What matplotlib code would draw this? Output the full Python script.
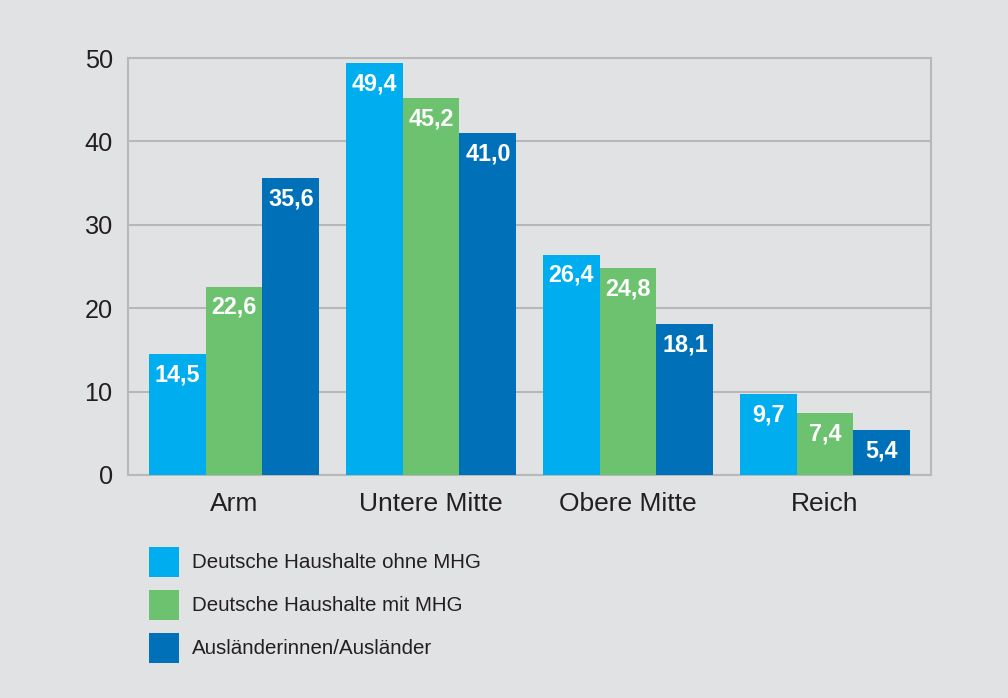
import numpy as np
import matplotlib.pyplot as plt

plt.rcParams['font.family'] = ['Liberation Sans', 'DejaVu Sans']

# data
categories = ['Arm', 'Untere Mitte', 'Obere Mitte', 'Reich']
series_names = ['Deutsche Haushalte ohne MHG', 'Deutsche Haushalte mit MHG', 'Ausländerinnen/Ausländer']
ohne_mhg = [14.5, 49.4, 26.4, 9.7]
mit_mhg = [22.6, 45.2, 24.8, 7.4]
auslaender = [35.6, 41.0, 18.1, 5.4]
colors = ['#00aeef', '#6cc26e', '#0071b9']

bg = '#e1e2e4'
grid_col = '#b7b8ba'
text_col = '#231f20'

fig = plt.figure(figsize=(10.08, 6.98), dpi=100, facecolor=bg)
ax = fig.add_axes([0.127, 0.3195, 0.7966, 0.5974])
ax.set_facecolor(bg)

x = np.arange(len(categories))
w = 0.289
handles = []
for i, (vals, name, c) in enumerate(zip([ohne_mhg, mit_mhg, auslaender], series_names, colors)):
    b = ax.bar(x + (i - 1) * w, vals, width=w, color=c, label=name, zorder=3)
    handles.append(b)
    for xi, v in zip(x + (i - 1) * w, vals):
        ax.annotate(f'{v:.1f}'.replace('.', ','), (xi, v), xytext=(0, -19.5),
                    textcoords='offset points', ha='center', va='baseline',
                    color='white', fontsize=16.8, fontweight='bold', zorder=4)

ax.set_ylim(0, 50)
ax.set_xlim(-0.538, 3.538)
ax.set_yticks([0, 10, 20, 30, 40, 50])
ax.set_xticks(x)
ax.tick_params(length=0, labelsize=18.2, colors=text_col)
ax.tick_params(axis='y', pad=11)
ax.tick_params(axis='x', pad=12)
ax.set_xticklabels(categories, fontsize=19)
ax.yaxis.grid(True, color=grid_col, linewidth=1.5, zorder=0)
for s in ax.spines.values():
    s.set_color(grid_col)
    s.set_linewidth(1.5)

fig.legend(handles=handles, labels=series_names, loc='upper left',
           bbox_to_anchor=(0.1478, 0.2165), frameon=False, fontsize=14.8,
           handlelength=1.46, handleheight=1.87, handletextpad=0.65,
           labelspacing=0.63, borderaxespad=0, borderpad=0,
           labelcolor=text_col)

fig.savefig('out.png', dpi=100, facecolor=bg)
